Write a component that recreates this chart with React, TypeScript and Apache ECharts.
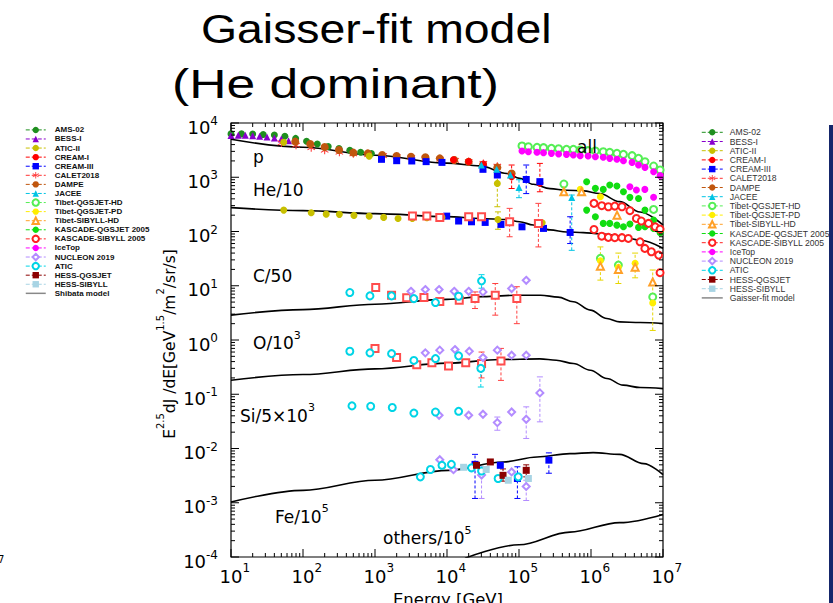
import React, { useEffect, useRef } from 'react';
import * as echarts from 'echarts';

// ---------- model curves (E [GeV], E^2.5 dJ/dE) ----------
const pModel = [[10, 5010], [100, 3570], [1000, 2550], [1e4, 1820], [2.9e4, 1620], [6.8e4, 1175], [1.02e5, 955], [1.58e5, 741], [2.7e5, 617], [4.6e5, 575], [7.8e5, 562], [1.32e6, 501], [2.5e6, 355], [4.8e6, 229], [1e7, 132]];
const heModel = [[10, 275], [100, 243], [1000, 214], [1e4, 188], [2.9e4, 174], [6.8e4, 166], [1.02e5, 151], [1.58e5, 132], [2.7e5, 107], [4.6e5, 98], [7.8e5, 95.5], [1.32e6, 91], [2.5e6, 83], [4.8e6, 69], [1e7, 49]];
const cModel = [[10, 2.87], [100, 3.63], [1000, 4.57], [1e4, 5.62], [3.16e4, 6.31], [1e5, 6.7], [2e5, 6.7], [3.5e5, 6.17], [5.7e5, 5.06], [9.8e5, 3.55], [1.66e6, 2.49], [2.5e6, 2.16], [4.8e6, 2.1], [1e7, 2.01]];
const oModel = [[10, 0.181], [100, 0.231], [1000, 0.294], [1e4, 0.374], [5.5e4, 0.437], [1.95e5, 0.449], [3.3e5, 0.424], [5.7e5, 0.368], [9.8e5, 0.277], [1.66e6, 0.195], [2.8e6, 0.147], [4.8e6, 0.133], [1e7, 0.127]];
const feModel = [[10, 1.03e-3], [100, 1.69e-3], [1000, 2.6e-3], [1.05e4, 3.96e-3], [6e4, 5.65e-3], [1.78e5, 6.98e-3], [5.1e5, 8.04e-3], [1.07e6, 8.4e-3], [2.5e6, 7.8e-3], [5.4e6, 5.26e-3], [1e7, 3.3e-3]];
const othersModel = [[1.78e4, 9.5e-5], [1e5, 1.68e-4], [5.1e5, 2.88e-4], [2.5e6, 4.3e-4], [1e7, 6.1e-4]];

// ---------- measurements ----------
const ams02 = [[10, 6300], [14, 6300], [20, 6250], [28, 6150], [40, 6000], [56, 5700], [79, 5200], [112, 4600], [158, 4100], [224, 3700], [316, 3400], [447, 3150], [631, 2900], [891, 2750]];
const bess1 = [[10, 5900], [12.6, 5950], [15.8, 5950], [20, 5850], [25, 5700], [31.6, 5500], [40, 5300], [50, 5050], [63, 4700]];
const atic2 = [[54, 4400], [830, 2450], [5e4, 770], [54, 248], [130, 222], [210, 209], [320, 207], [510, 198], [830, 192], [1320, 182], [2090, 174], [3300, 174], [5250, 179], [8500, 182], [5.1e4, 167], [2.1e5, 145]];
const cream1 = [[1.23e4, 2100], [2e4, 1950], [3.2e4, 1750], [7.9e4, 1020], [1.95e5, 780]];
const cream3 = [[1230, 2140], [2000, 2020], [3240, 1995], [5130, 1940], [8510, 1880], [3.16e4, 1400], [5e4, 1100], [1.26e5, 910], [1.95e5, 830], [9900, 192], [1.45e4, 156], [2.19e4, 151], [3.39e4, 147], [5.62e4, 135], [1.1e5, 122], [2.19e5, 114], [5.13e5, 96], [2.45e4, 5.1e-3], [5.5e4, 4.9e-3], [9.5e4, 2.8e-3], [2.6e5, 6.1e-3]];
const calet = [[50, 4300], [80, 3900], [130, 3500], [200, 3150], [320, 2900], [500, 2700], [800, 2600], [1300, 2500], [2000, 2400], [3200, 2300], [5000, 2250], [8000, 2150], [1.3e4, 2050], [2e4, 1950], [3.2e4, 1800], [5e4, 1600]];
const dampe = [[78, 4530], [126, 4100], [200, 3600], [316, 3180], [500, 2840], [794, 2755], [1259, 2570], [1995, 2460], [3162, 2390], [5012, 2330], [7943, 2230], [1.26e4, 2075], [2e4, 1935], [3.16e4, 1700], [5e4, 1520], [7.9e4, 1175]];
const jacee = [[3e4, 1680], [4.9e4, 1400], [7.6e4, 1100], [1e5, 650], [5.4e5, 425]];
const tibetQgsjetHD = [[1.1e5, 3770], [1.35e5, 3660], [1.78e5, 3560], [2.19e5, 3510], [2.82e5, 3410], [3.55e5, 3360], [4.57e5, 3270], [5.69e5, 3270], [7.08e5, 3180], [9.12e5, 3090], [1.15e6, 3050], [1.48e6, 2960], [1.82e6, 2880], [2.29e6, 2755], [2.82e6, 2640], [3.72e6, 2500], [4.57e6, 2230], [5.62e6, 1935], [7.41e6, 1610], [9.12e6, 1360], [4.2e5, 750], [7.4e6, 255], [1.35e6, 32], [2.4e6, 24], [7.2e6, 6.2]];
const tibetQgsjetPD = [[7.1e5, 600], [1.35e6, 437], [1.35e6, 29], [2.4e6, 22], [4.1e6, 26], [7.2e6, 4.8]];
const tibetSibyllHD = [[4.2e5, 540], [7.4e5, 540], [2.3e6, 200], [1.35e6, 23], [2.4e6, 20], [4.1e6, 22], [7.2e6, 11.7]];
const kascadeQgsjet = [[8.7e5, 828], [1.15e6, 624], [1.48e6, 597], [1.82e6, 718], [2.29e6, 689], [2.82e6, 541], [3.47e6, 426], [4.57e6, 407], [5.62e6, 248], [7.41e6, 162], [9.12e6, 99], [8.7e5, 248], [1.15e6, 187], [1.48e6, 141], [1.82e6, 141], [2.29e6, 131], [2.82e6, 122], [3.47e6, 137], [4.57e6, 119], [5.62e6, 122], [7.41e6, 114], [9.12e6, 95]];
const kascadeSibyll = [[1.1e6, 330], [1.41e6, 299], [1.74e6, 286], [2.14e6, 294], [2.69e6, 286], [3.47e6, 242], [4.27e6, 174], [5e6, 156], [6.3e6, 141], [7.8e6, 122], [9.1e6, 111], [1.1e6, 109], [1.41e6, 82], [1.74e6, 78], [2.14e6, 77], [2.69e6, 77], [3.3e6, 74.5], [4.8e6, 64.6], [5.6e6, 48.8], [6.9e6, 42.3], [8.7e6, 36.7], [9.1e6, 17.4]];
const iceTop = [[1.1e5, 3050], [1.35e5, 2960], [1.78e5, 2880], [2.19e5, 2840], [2.82e5, 2755], [3.55e5, 2680], [4.57e5, 2640], [5.69e5, 2570], [7.08e5, 2500], [9.12e5, 2460], [1.15e6, 2390], [1.48e6, 2330], [1.82e6, 2230], [2.29e6, 2140], [2.82e6, 2020], [3.72e6, 1880], [4.57e6, 1680], [5.62e6, 1520], [7.41e6, 1265], [9.12e6, 1070], [3.47e6, 670], [4.27e6, 580], [5.6e6, 597], [7.4e6, 427]];
const nucleon = [[3160, 7.9], [5000, 8.5], [7760, 8.5], [1.26e4, 7.9], [2e4, 7.9], [3.16e4, 7.7], [7.9e4, 8.9], [1.26e5, 12.6], [5000, 0.58], [7940, 0.65], [1.29e4, 0.667], [2.04e4, 0.622], [3.16e4, 0.475], [5e4, 0.65], [7.9e4, 0.525], [1.26e5, 0.525], [1.95e5, 0.106], [7760, 0.041], [2e4, 0.041], [3.16e4, 0.0428], [5e4, 0.03], [7.9e4, 0.047], [1.26e5, 0.0346], [7940, 6.2e-3], [1.23e4, 4.07e-3], [3.02e4, 3.24e-3], [7.9e4, 3.7e-3], [1.26e5, 2.0e-3]];
const atic = [[447, 7.5], [851, 6.5], [1698, 6.5], [3467, 5.8], [6918, 4.9], [1.45e4, 6.4], [3.02e4, 12.3], [447, 0.62], [851, 0.58], [1698, 0.56], [3467, 0.42], [6918, 0.455], [1.45e4, 0.51], [2.95e4, 0.3], [479, 0.061], [871, 0.06], [1738, 0.057], [3467, 0.045], [6918, 0.047], [1.45e4, 0.0485], [4266, 3.0e-3], [5888, 4.1e-3], [8511, 4.9e-3], [1.15e4, 5.1e-3], [2.19e4, 4.4e-3], [3.02e4, 3.85e-3], [5.13e4, 2.8e-3], [9.77e4, 3.0e-3]];
const hessQgsjet = [[2.57e4, 4.9e-3], [4e4, 5.65e-3], [6e4, 3.2e-3], [1.26e5, 3.96e-3]];
const hessSibyll = [[1.7e4, 4.5e-3], [3.5e4, 4.1e-3], [7.1e4, 2.6e-3], [1.35e5, 2.8e-3]];
const creamII = [[1023, 9.3], [1698, 6.7], [2754, 6.0], [4786, 6.1], [7943, 5.1], [1.48e4, 5.4], [2.45e4, 5.8], [4.68e4, 6.7], [9.33e4, 5.8], [1000, 0.7], [1995, 0.475], [3802, 0.35], [6166, 0.38], [1.05e4, 0.33], [1.82e4, 0.38], [3.02e4, 0.37], [5.62e4, 0.41], [3311, 193], [5248, 193], [7943, 182], [2e4, 187], [3.02e4, 187], [7.41e4, 151], [1.86e5, 141]];

// ---------- error bars [E, low, high] ----------
const cream1Err = [[7.9e4, 620, 1680], [1.95e5, 540, 1800]];
const cream3Err = [[1.26e5, 500, 1680], [5.13e5, 60, 187], [2.45e4, 1.2e-3, 7.8e-3], [9.5e4, 1.2e-3, 4.6e-3], [2.6e5, 3.5e-3, 8.3e-3]];
const creamIIErr = [[4.68e4, 2.87, 11], [9.33e4, 2.0, 9.6], [2.45e4, 3.8, 7.7], [5.62e4, 0.18, 0.7], [3.02e4, 0.2, 0.6], [7.41e4, 80, 267], [1.86e5, 52, 330]];
const jaceeErr = [[5.4e5, 45, 470], [1e5, 420, 900]];
const atic2Err = [[5e4, 286, 1100], [5.1e4, 110, 230]];
const tibetPDErr = [[1.35e6, 12.7, 52], [2.4e6, 11, 40], [4.1e6, 14, 40], [7.2e6, 1.5, 19.5]];
const nucleonErr = [[1.95e5, 0.031, 0.209], [5e4, 0.0217, 0.038], [1.26e5, 0.0153, 0.0586], [1.26e5, 1.1e-3, 2.6e-3], [3.02e4, 1.2e-3, 4.6e-3]];
const aticErr = [[3.02e4, 9, 16], [2.95e4, 0.136, 0.42]];
const hessQErr = [[6e4, 2.5e-3, 4.2e-3], [1.26e5, 3.0e-3, 5.0e-3]];

// ---------- axes ----------
const xDecades = [1, 2, 3, 4, 5, 6];
const yDecades = [-4, -3, -2, -1, 0, 1, 2, 3];
const LEGEND_NAMES = ['AMS-02', 'BESS-I', 'ATIC-II', 'CREAM-I', 'CREAM-III', 'CALET2018', 'DAMPE', 'JACEE', 'Tibet-QGSJET-HD', 'Tibet-QGSJET-PD', 'Tibet-SIBYLL-HD', 'KASCADE-QGSJET 2005', 'KASCADE-SIBYLL 2005', 'IceTop', 'NUCLEON 2019', 'ATIC', 'HESS-QGSJET', 'HESS-SIBYLL'];

const STAR = 'path://M-0.6,-5L0.6,-5L0.6,5L-0.6,5Z M-4.6,-2.2L-4,-3.2L4.6,2.2L4,3.2Z M4,-3.2L4.6,-2.2L-4,3.2L-4.6,2.2Z';

function dataSeries(name: string, data: number[][], symbol: string, color: string, size = 7, border = 0) {
  return {
    type: 'line', name, data, symbol, symbolSize: size, showSymbol: true, showAllSymbol: true,
    lineStyle: { width: 0 }, itemStyle: { color, borderWidth: border }, z: 5, silent: true,
  };
}
function modelSeries(data: number[][]) {
  return {
    type: 'line', name: 'Gaisser-fit model', data, symbol: 'none', smooth: 0.35, smoothMonotone: 'x',
    lineStyle: { color: '#000', width: 1.6 }, itemStyle: { color: '#000' }, z: 3, silent: true,
  };
}
function errSeries(data: number[][], color: string) {
  return {
    type: 'custom', data, encode: { x: 0, y: [1, 2] }, z: 4, silent: true,
    renderItem: (params: any, api: any) => {
      const x = api.value(0);
      const p1 = api.coord([x, api.value(1)]);
      const p2 = api.coord([x, api.value(2)]);
      return {
        type: 'group', children: [
          { type: 'line', shape: { x1: p1[0], y1: p1[1], x2: p2[0], y2: p2[1] }, style: { stroke: color, lineWidth: 1, lineDash: [3, 2] } },
          { type: 'line', shape: { x1: p1[0] - 3, y1: p1[1], x2: p1[0] + 3, y2: p1[1] }, style: { stroke: color, lineWidth: 1 } },
          { type: 'line', shape: { x1: p2[0] - 3, y1: p2[1], x2: p2[0] + 3, y2: p2[1] }, style: { stroke: color, lineWidth: 1 } },
        ],
      };
    },
  };
}

function buildTicks() {
  const t: number[][] = [];
  xDecades.forEach((k) => {
    for (let m = 1; m <= 9; m++) { const v = m * Math.pow(10, k); t.push([v, 1, 0, m === 1 ? 1 : 0]); t.push([v, 1, 1, m === 1 ? 1 : 0]); }
  });
  t.push([1e7, 1, 0, 1], [1e7, 1, 1, 1]);
  yDecades.forEach((k) => {
    for (let m = 1; m <= 9; m++) { const v = m * Math.pow(10, k); t.push([10, v, 2, m === 1 ? 1 : 0]); t.push([10, v, 3, m === 1 ? 1 : 0]); }
  });
  t.push([10, 1e4, 2, 1], [10, 1e4, 3, 1]);
  return t;
}

const FONT = 'DejaVu Sans';
const annRich = {
  b: { fontFamily: FONT, fontSize: 17, fill: '#000', padding: [6, 0, 0, 0] },
  s: { fontFamily: FONT, fontSize: 11, fill: '#000', verticalAlign: 'top', padding: [1, 0, 0, 0] },
};
function ann(text: string, x: number, y: number) {
  return { type: 'text', x, y, z: 20, silent: true, style: { text, rich: annRich, align: 'left', verticalAlign: 'top' } };
}

export default function App() {
  const ref = useRef<HTMLDivElement>(null);
  useEffect(() => {
    const chart = echarts.init(ref.current!, null, { renderer: 'svg' });
    const legendBase = {
      orient: 'vertical', itemHeight: 8, selectedMode: false,
      lineStyle: { width: 1, type: 'dashed', opacity: 1 },
    };
    const modelLegend = (name: string) => ({ name, itemStyle: { opacity: 0 }, lineStyle: { color: '#888', type: 'solid', width: 1.5 } });
    const option: any = {
      animation: false,
      backgroundColor: '#fff',
      grid: { left: 231, top: 123, width: 432, height: 434, show: true, borderColor: '#000', borderWidth: 1.2, backgroundColor: 'transparent', containLabel: false, outerBoundsMode: 'none' },
      xAxis: {
        type: 'log', logBase: 10, min: 10, max: 1e7, splitNumber: 6,
        axisLine: { show: false }, axisTick: { show: false }, splitLine: { show: false },
        axisLabel: {
          margin: 2, showMinLabel: true, showMaxLabel: true, hideOverlap: false,
          formatter: (v: number) => { const e = Math.round(Math.log10(v)); return `{sp|${e}}{b|10}{s|${e}}`; },
          rich: {
            b: { fontFamily: FONT, fontSize: 18, color: '#000', padding: [8, 0, 0, 0] },
            s: { fontFamily: FONT, fontSize: 12, color: '#000', verticalAlign: 'top', padding: [3, 0, 0, 0] },
            sp: { fontFamily: FONT, fontSize: 12, color: 'rgba(0,0,0,0)', verticalAlign: 'top', padding: [3, 0, 0, 0] },
          },
        },
      },
      yAxis: {
        type: 'log', logBase: 10, min: 1e-4, max: 1e4, splitNumber: 8,
        axisLine: { show: false }, axisTick: { show: false }, splitLine: { show: false },
        axisLabel: {
          margin: 13, showMinLabel: true, showMaxLabel: true, hideOverlap: false,
          formatter: (v: number) => { const e = Math.round(Math.log10(v)); return `{b|10}{s|${e}}`; },
          rich: {
            b: { fontFamily: FONT, fontSize: 18, color: '#000', padding: [8, 0, 0, 0] },
            s: { fontFamily: FONT, fontSize: 12, color: '#000', verticalAlign: 'top', padding: [5, 0, 0, 0] },
          },
        },
      },
      legend: [
        {
          ...legendBase, left: 20, top: 120.4, itemWidth: 20, itemGap: 0.08,
          textStyle: { fontFamily: 'Liberation Sans', fontSize: 8, fontWeight: 'bold', color: '#111', lineHeight: 9, padding: [0, 0, 0, 4] },
          data: [...LEGEND_NAMES, modelLegend('Shibata model')],
        },
        {
          ...legendBase, left: 696, top: 122.8, itemWidth: 21, itemGap: 0.2,
          textStyle: { fontFamily: 'Liberation Sans', fontSize: 8.6, color: '#333', lineHeight: 9, padding: [0, 0, 0, 2] },
          data: [...LEGEND_NAMES, modelLegend('Gaisser-fit model')],
        },
      ],
      graphic: {
        elements: [
          { type: 'text', x: 201, y: 29.3, scaleX: 1.16, silent: true, style: { text: 'Gaisser-fit model', fontFamily: 'Liberation Sans', fontSize: 40, fill: '#000', align: 'left', verticalAlign: 'middle' } },
          { type: 'text', x: 172, y: 84.3, scaleX: 1.29, silent: true, style: { text: '(He dominant)', fontFamily: 'Liberation Sans', fontSize: 40, fill: '#000', align: 'left', verticalAlign: 'middle' } },
          {
            type: 'text', x: 166, y: 344, rotation: Math.PI / 2, silent: true,
            style: {
              text: '{b|E}{s|2.5}{b|dJ /dE[GeV}{s|1.5}{b|/m}{s|2}{b|/sr/s]}', align: 'center', verticalAlign: 'middle',
              rich: {
                b: { fontFamily: FONT, fontSize: 15.5, fill: '#000', padding: [8, 0, 0, 0] },
                s: { fontFamily: FONT, fontSize: 10, fill: '#000', verticalAlign: 'top', padding: [1, 0, 0, 0] },
              },
            },
          },
          { type: 'text', x: 448, y: 599, silent: true, style: { text: 'Energy [GeV]', fontFamily: FONT, fontSize: 16.5, fill: '#000', align: 'center', verticalAlign: 'middle' } },
          ann('{b|p}', 253, 142),
          ann('{b|He/10}', 253, 175.5),
          ann('{b|C/50}', 253, 261),
          ann('{b|O/10}{s|3}', 253, 328.5),
          ann('{b|Si/5×10}{s|3}', 240, 401),
          ann('{b|Fe/10}{s|5}', 275, 502),
          ann('{b|others/10}{s|5}', 383, 523.5),
          ann('{b|all}', 577, 132),
          { type: 'rect', z: 100, silent: true, shape: { x: 0, y: 95, width: 160, height: 28.5 }, style: { fill: '#fff' } },
          { type: 'rect', z: 100, silent: true, shape: { x: 829, y: 125, width: 4, height: 478 }, style: { fill: '#15266b' } },
          { type: 'text', x: -2, y: 559, silent: true, style: { text: '7', fontFamily: FONT, fontSize: 10, fill: '#000', verticalAlign: 'middle' } },
        ],
      },
      series: [
        {
          type: 'custom', data: buildTicks(), encode: { x: 0, y: 1 }, silent: true, z: 6, clip: false,
          renderItem: (params: any, api: any) => {
            const cs = params.coordSys;
            const side = api.value(2);
            const len = api.value(3) === 1 ? 8 : 4;
            const p = api.coord([api.value(0), api.value(1)]);
            let shape;
            if (side === 0) shape = { x1: p[0], y1: cs.y + cs.height, x2: p[0], y2: cs.y + cs.height - len };
            else if (side === 1) shape = { x1: p[0], y1: cs.y, x2: p[0], y2: cs.y + len };
            else if (side === 2) shape = { x1: cs.x, y1: p[1], x2: cs.x + len, y2: p[1] };
            else shape = { x1: cs.x + cs.width, y1: p[1], x2: cs.x + cs.width - len, y2: p[1] };
            return { type: 'line', shape, style: { stroke: '#000', lineWidth: 1 } };
          },
        },
        modelSeries(pModel), modelSeries(heModel), modelSeries(cModel), modelSeries(oModel), modelSeries(feModel), modelSeries(othersModel),
        { type: 'line', name: 'Shibata model', data: [], symbol: 'none', lineStyle: { color: '#888', width: 1.5 }, itemStyle: { color: '#888' } },
        errSeries(cream1Err, '#ff0000'), errSeries(cream3Err, '#0000ff'), errSeries(creamIIErr, '#ff4040'),
        errSeries(jaceeErr, '#00c4e4'), errSeries(atic2Err, '#c8c000'), errSeries(tibetPDErr, '#e6d600'),
        errSeries(nucleonErr, '#b38cff'), errSeries(aticErr, '#00d4e6'), errSeries(hessQErr, '#8b0000'),
        dataSeries('AMS-02', ams02, 'circle', '#1f8f1f', 7),
        dataSeries('BESS-I', bess1, 'triangle', '#8800cc', 7),
        dataSeries('CALET2018', calet, STAR, '#ff3333', 8),
        dataSeries('DAMPE', dampe, 'circle', '#c0560e', 8),
        dataSeries('CREAM-I', cream1, 'circle', '#ff0000', 7),
        dataSeries('CREAM-III', cream3, 'rect', '#0000ff', 7),
        dataSeries('ATIC-II', atic2, 'circle', '#c8c000', 7),
        dataSeries('JACEE', jacee, 'triangle', '#00c4e4', 7),
        dataSeries('CREAM-II', creamII, 'emptyRect', '#ff4d4d', 7, 1.2),
        dataSeries('Tibet-QGSJET-HD', tibetQgsjetHD, 'emptyCircle', '#55ee55', 7, 1.5),
        dataSeries('IceTop', iceTop, 'circle', '#ff00ff', 7),
        dataSeries('Tibet-QGSJET-PD', tibetQgsjetPD, 'circle', '#ffee00', 7),
        dataSeries('Tibet-SIBYLL-HD', tibetSibyllHD, 'emptyTriangle', '#ffa028', 7, 1.2),
        dataSeries('KASCADE-QGSJET 2005', kascadeQgsjet, 'circle', '#11dd11', 7),
        dataSeries('KASCADE-SIBYLL 2005', kascadeSibyll, 'emptyCircle', '#ff2222', 7, 2),
        dataSeries('NUCLEON 2019', nucleon, 'emptyDiamond', '#b38cff', 7, 1),
        dataSeries('ATIC', atic, 'emptyCircle', '#00d4e6', 7, 1.5),
        dataSeries('HESS-QGSJET', hessQgsjet, 'rect', '#8b0000', 7),
        dataSeries('HESS-SIBYLL', hessSibyll, 'rect', '#a8d4e4', 7),
      ],
    };
    chart.setOption(option);
    return () => chart.dispose();
  }, []);
  return <div ref={ref} style={{ position: 'fixed', left: 0, top: 0, width: 833, height: 603, background: '#fff' }} />;
}
